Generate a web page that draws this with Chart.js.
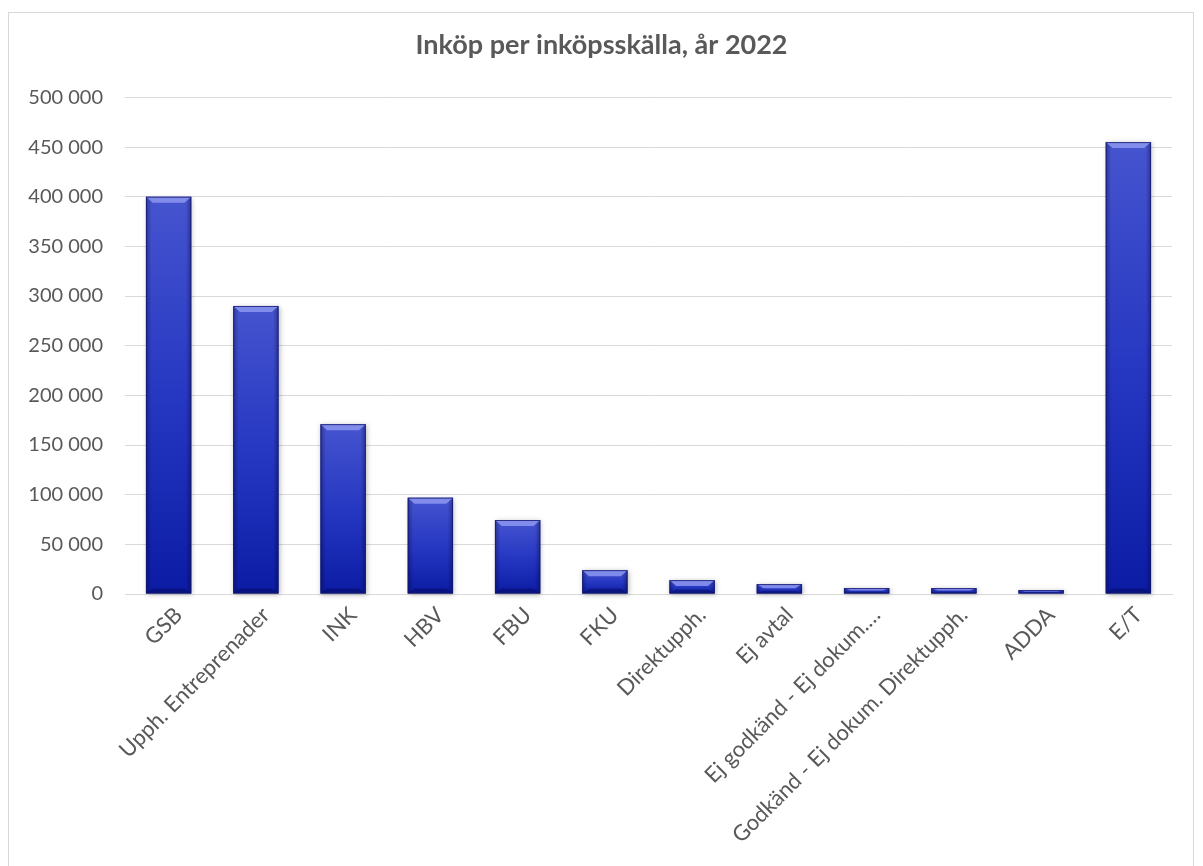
<!DOCTYPE html>
<html>
<head>
<meta charset="utf-8">
<script src="https://cdn.jsdelivr.net/npm/chart.js@4.4.1/dist/chart.umd.min.js"></script>
<style>
  html, body { margin: 0; padding: 0; background: #ffffff; overflow: hidden; }
  #frame { position: absolute; left: 8px; top: 12px; width: 1186px; height: 900px; border: 1px solid #d9d9d9; box-sizing: border-box; }
  #wrap { position: absolute; left: 0; top: 0; width: 1203px; height: 866px; }
</style>
</head>
<body>
<div id="frame"></div>
<div id="wrap"><canvas id="c" width="1203" height="866"></canvas></div>
<script>
const titleText = "Inköp per inköpsskälla, år 2022";
const categories = ["GSB", "Upph. Entreprenader", "INK", "HBV", "FBU", "FKU", "Direktupph.", "Ej avtal", "Ej godkänd - Ej dokum.…", "Godkänd - Ej dokum. Direktupph.", "ADDA", "E/T"];
const values = [400000, 290000, 171000, 97000, 74500, 24000, 14000, 10000, 6000, 6000, 4000, 455000];
const yMin = 0, yMax = 500000, yStep = 50000;

const fmt = v => String(v).replace(/\B(?=(\d{3})+(?!\d))/g, " ");
const FONT = 'Lato, "Open Sans", sans-serif';

const bevelPlugin = {
  id: 'bevel',
  afterDatasetsDraw(chart) {
    const ctx = chart.ctx;
    const meta = chart.getDatasetMeta(0);
    meta.data.forEach(bar => {
      const p = bar.getProps(['x', 'y', 'base', 'width'], true);
      const l = p.x - p.width / 2, r = p.x + p.width / 2, t = p.y, b = p.base;
      const h = b - t;
      if (h <= 0) return;
      ctx.save();
      ctx.shadowColor = 'rgba(0,0,0,0.28)';
      ctx.shadowBlur = 5;
      ctx.shadowOffsetX = 1;
      ctx.shadowOffsetY = 1;
      const g = ctx.createLinearGradient(0, t, 0, b);
      g.addColorStop(0, '#4654cf');
      g.addColorStop(0.5, '#2638c2');
      g.addColorStop(1, '#0b1ba4');
      ctx.fillStyle = g;
      ctx.fillRect(l, t, p.width, h);
      ctx.restore();
      ctx.save();
      const sg = ctx.createLinearGradient(l, 0, r, 0);
      sg.addColorStop(0, 'rgba(0,0,40,0.35)');
      sg.addColorStop(0.12, 'rgba(0,0,40,0.0)');
      sg.addColorStop(0.88, 'rgba(0,0,40,0.0)');
      sg.addColorStop(1, 'rgba(0,0,40,0.35)');
      ctx.fillStyle = sg;
      ctx.fillRect(l, t, p.width, h);
      const cap = Math.min(6, h * 0.45);
      const inset = Math.min(7, p.width * 0.15);
      ctx.beginPath();
      ctx.moveTo(l, t);
      ctx.lineTo(r, t);
      ctx.lineTo(r - inset, t + cap);
      ctx.lineTo(l + inset, t + cap);
      ctx.closePath();
      ctx.fillStyle = 'rgba(140,150,240,0.85)';
      ctx.fill();
      const bc = Math.min(5, h * 0.3);
      ctx.beginPath();
      ctx.moveTo(l, b);
      ctx.lineTo(r, b);
      ctx.lineTo(r - inset, b - bc);
      ctx.lineTo(l + inset, b - bc);
      ctx.closePath();
      ctx.fillStyle = 'rgba(0,0,60,0.35)';
      ctx.fill();
      ctx.strokeStyle = 'rgba(20,25,110,0.8)';
      ctx.lineWidth = 1;
      ctx.strokeRect(l + 0.5, t + 0.5, p.width - 1, h - 1);
      ctx.restore();
    });
  }
};

new Chart(document.getElementById('c'), {
  type: 'bar',
  data: {
    labels: categories,
    datasets: [{
      data: values,
      backgroundColor: 'rgba(0,0,0,0)',
      borderWidth: 0,
      categoryPercentage: 1.0,
      barPercentage: 0.52
    }]
  },
  plugins: [bevelPlugin],
  options: {
    responsive: false,
    animation: false,
    layout: { padding: { left: 0, right: 0, top: 0, bottom: 0 } },
    plugins: {
      legend: { display: false },
      tooltip: { enabled: false },
      title: {
        display: true,
        text: titleText,
        color: '#595959',
        font: { family: FONT, size: 27, weight: 'bold' },
        padding: { top: 29, bottom: 36 }
      }
    },
    scales: {
      x: {
        grid: { display: false },
        border: { display: true, color: '#d9d9d9', width: 1 },
        ticks: {
          color: '#595959',
          font: { family: FONT, size: 22 },
          minRotation: 45, maxRotation: 45,
          autoSkip: false,
          padding: 0,
          labelOffset: 10
        },
        afterFit(scale) { scale.height = 866 - 594; }
      },
      y: {
        min: yMin, max: yMax,
        grid: { color: '#d9d9d9', lineWidth: 1, drawTicks: false },
        border: { display: false },
        ticks: {
          stepSize: yStep,
          color: '#595959',
          font: { family: FONT, size: 20 },
          padding: 22,
          callback: v => fmt(v)
        },
        afterFit(scale) { scale.width = 125; }
      },
      yRight: {
        position: 'right',
        min: yMin, max: yMax,
        grid: { display: false, drawOnChartArea: false },
        border: { display: false },
        ticks: { display: false },
        afterFit(scale) { scale.width = 31; }
      }
    }
  }
});
</script>
</body>
</html>
